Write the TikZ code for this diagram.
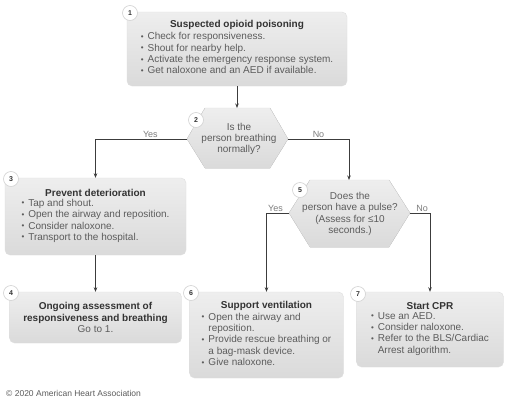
\documentclass[tikz,border=0pt]{standalone}
\usepackage{fontspec}
\setmainfont{Liberation Sans}
\usetikzlibrary{arrows.meta}
\definecolor{titlec}{HTML}{333333}
\definecolor{bodyc}{HTML}{5C5C5C}
\definecolor{linec}{HTML}{3C3C3C}
\definecolor{boxtop}{HTML}{EEEEEE}
\definecolor{boxbot}{HTML}{DADADA}
\newcommand{\ttl}[1]{{\bfseries\color{titlec}#1}}
\newcommand{\blist}[1]{\begin{tabular}{@{}l@{\hspace{4pt}}l@{}}#1\end{tabular}}
\newcommand{\bu}{\raisebox{0.5pt}{\fontsize{8}{8}\selectfont\textbullet}}
\begin{document}
\begin{tikzpicture}[x=1pt,y=-1pt,
  box/.style={rounded corners=5pt, top color=boxtop, bottom color=boxbot,
    draw=gray!25, line width=0.4pt, align=center, text=bodyc,
    font=\fontsize{10}{11.3}\selectfont, inner sep=0pt},
  hexfill/.style={top color=boxtop, bottom color=boxbot, draw=gray!25, line width=0.4pt},
  hextext/.style={align=center, text=bodyc, font=\fontsize{10}{11.3}\selectfont, inner sep=0pt},
  numc/.style={circle, fill=white, draw=gray!35, line width=0.6pt, minimum size=15pt,
    inner sep=0pt, text=titlec, font=\bfseries\fontsize{7}{7}\selectfont},
  conn/.style={draw=linec, line width=0.7pt, -{Stealth[length=4.5pt,width=3.5pt]}},
  yn/.style={text=bodyc!80, font=\fontsize{9}{9}\selectfont, inner sep=1.5pt, above}
]
\useasboundingbox[fill=white] (0,0) rectangle (506,399);

% Box 1
\node[box, minimum width=220pt, minimum height=74pt] (b1) at (237,49)
  {\ttl{Suspected opioid poisoning}\\[1pt]
   \blist{\bu & Check for responsiveness.\\
          \bu & Shout for nearby help.\\
          \bu & Activate the emergency response system.\\
          \bu & Get naloxone and an AED if available.}};
\node[numc] (c1) at (130,13) {1};

% Hexagon 2
\fill[hexfill] (187,139) -- (205,108) -- (270,108) -- (288,139) -- (270,168) -- (205,168) -- cycle;
\coordinate (h2n) at (237,108);
\coordinate (h2w) at (187,139);
\coordinate (h2e) at (288,139);
\node[hextext] (h2) at (239,139) {Is the\\person breathing\\normally?};
\node[numc] (c2) at (196,120) {2};

% Box 3
\node[box, minimum width=181pt, minimum height=77pt] (b3) at (95.5,216.5)
  {\ttl{Prevent deterioration}\\[1pt]
   \blist{\bu & Tap and shout.\\
          \bu & Open the airway and reposition.\\
          \bu & Consider naloxone.\\
          \bu & Transport to the hospital.}};
\node[numc] (c3) at (11,179) {3};

% Box 4
\node[box, minimum width=172pt, minimum height=51pt] (b4) at (95.5,317.5)
  {\ttl{Ongoing assessment of}\\\ttl{responsiveness and breathing}\\Go to 1.};
\node[numc] (c4) at (11,293) {4};

% Hexagon 5
\fill[hexfill] (289,213) -- (310,180) -- (389,180) -- (410,213) -- (389,247) -- (310,247) -- cycle;
\coordinate (h5n) at (349,180);
\coordinate (h5w) at (289,213);
\coordinate (h5e) at (410,213);
\node[hextext] (h5) at (350,214) {Does the\\person have a pulse?\\(Assess for ≤10\\seconds.)};
\node[numc] (c5) at (300,190) {5};

% Box 6
\node[box, minimum width=154pt, minimum height=86pt] (b6) at (266.5,335)
  {\ttl{Support ventilation}\\[1pt]
   \blist{\bu & Open the airway and\\
              & reposition.\\
          \bu & Provide rescue breathing or\\
              & a bag-mask device.\\
          \bu & Give naloxone.}};
\node[numc] (c6) at (191,293) {6};

% Box 7
\node[box, minimum width=147pt, minimum height=75pt] (b7) at (430,329.5)
  {\ttl{Start CPR}\\[1pt]
   \blist{\bu & Use an AED.\\
          \bu & Consider naloxone.\\
          \bu & Refer to the BLS/Cardiac\\
              & Arrest algorithm.}};
\node[numc] (c7) at (358,294) {7};

% Connectors
\draw[conn] (b1.south) -- (h2n);
\draw[conn] (h2w) -| node[yn, pos=0.2] (y1) {Yes} (b3.north);
\draw[conn] (h2e) -| node[yn, pos=0.25] (n1) {No} (h5n);
\draw[conn] (b3.south) -- (b4.north);
\draw[conn] (h5w) -| node[yn, pos=0.3] (y2) {Yes} (b6.north);
\draw[conn] (h5e) -| node[yn, pos=0.3] (n2) {No} (b7.north);

% Footer
\node[anchor=west, text=bodyc, font=\fontsize{8.5}{8.5}\selectfont, inner sep=0pt] (copy) at (6,393)
  {© 2020 American Heart Association};
\end{tikzpicture}
\end{document}
